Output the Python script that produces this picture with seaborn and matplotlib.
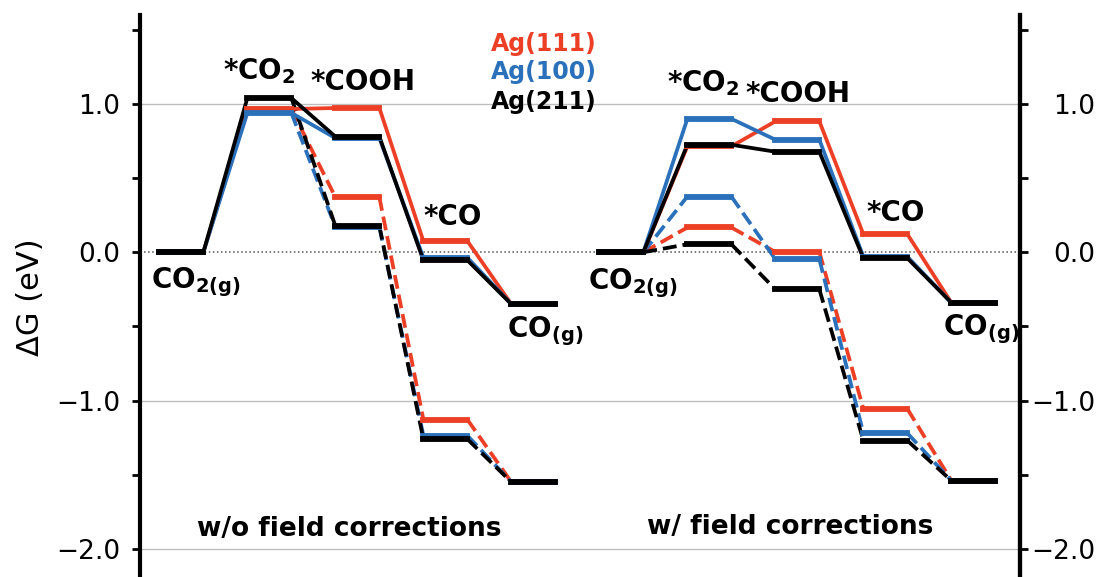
import matplotlib
matplotlib.use("Agg")
import matplotlib.pyplot as plt
import numpy as np
import pandas as pd
import seaborn as sns

# ---------------- data ----------------
steps = ["CO$_{\\mathbf{2(g)}}$", "*CO$_\\mathbf{2}$", "*COOH", "*CO", "CO$_{\\mathbf{(g)}}$"]
surfaces = ["Ag(111)", "Ag(100)", "Ag(211)"]
panels = ["w/o field corrections", "w/ field corrections"]

# w/o field corrections
wo_solid_111 = [0.0, 0.966, 0.973, 0.076, -0.35]
wo_solid_100 = [0.0, 0.940, 0.770, -0.036, -0.35]
wo_solid_211 = [0.0, 1.040, 0.780, -0.054, -0.35]
wo_dash_111 = [0.0, 0.966, 0.372, -1.128, -1.55]
wo_dash_100 = [0.0, 0.940, 0.170, -1.236, -1.55]
wo_dash_211 = [0.0, 1.040, 0.178, -1.260, -1.55]

# w/ field corrections
w_solid_111 = [0.0, 0.714, 0.883, 0.122, -0.34]
w_solid_100 = [0.0, 0.900, 0.759, -0.030, -0.34]
w_solid_211 = [0.0, 0.725, 0.678, -0.040, -0.34]
w_dash_111 = [0.0, 0.167, 0.002, -1.056, -1.54]
w_dash_100 = [0.0, 0.376, -0.047, -1.220, -1.54]
w_dash_211 = [0.0, 0.054, -0.250, -1.270, -1.54]

# index of the step from which the dashed pathway branches off
dash_start = [1, 0]

yticks_major = [-2.0, -1.0, 0.0, 1.0]
yticks_minor = [-1.5, -0.5, 0.5, 1.5]

# ---------------- layout / styles ----------------
colors = {"Ag(111)": "#ec3f26", "Ag(100)": "#2b70bb", "Ag(211)": "#000000"}
W = 0.5          # level width in step units
LV_LW = 4.2
CN_LW = 2.7

# label anchors (left, baseline) in data units, per panel
label_pos = [
    [(-0.10, -0.241), (0.72, 1.169), (1.72, 1.096), (3.00, 0.184), (3.95, -0.576)],
    [(4.87, -0.247), (5.77, 1.086), (6.66, 1.011), (8.03, 0.209), (8.91, -0.562)],
]
panel_pos = [(2.155, -1.912), (7.166, -1.900)]
legend_pos = [(3.765, 1.359), (3.765, 1.168), (3.765, 0.966)]

# ---------------- build long tables ----------------
series = {
    (0, "solid"): [wo_solid_111, wo_solid_100, wo_solid_211],
    (0, "dashed"): [wo_dash_111, wo_dash_100, wo_dash_211],
    (1, "solid"): [w_solid_111, w_solid_100, w_solid_211],
    (1, "dashed"): [w_dash_111, w_dash_100, w_dash_211],
}

lev_rows, con_rows = [], []
seg = 0
for (p, kind), vals_list in series.items():
    x0 = p * len(steps)
    start = 0 if kind == "solid" else dash_start[p]
    for surf, vals in zip(surfaces, vals_list):
        first_level = start if kind == "solid" else start + 1
        for i in range(first_level, len(vals)):
            for xx in (x0 + i, x0 + i + W):
                lev_rows.append(dict(x=xx, y=vals[i], seg=seg, surface=surf, kind=kind))
            seg += 1
        for i in range(start, len(vals) - 1):
            con_rows.append(dict(x=x0 + i + W, y=vals[i], seg=seg, surface=surf, kind=kind))
            con_rows.append(dict(x=x0 + i + 1, y=vals[i + 1], seg=seg, surface=surf, kind=kind))
            seg += 1

lev = pd.DataFrame(lev_rows)
con = pd.DataFrame(con_rows)

# ---------------- plot ----------------
sns.set_theme(style="white")
plt.rcParams["font.family"] = ["DejaVu Sans"]
plt.rcParams["lines.solid_capstyle"] = "projecting"
plt.rcParams["mathtext.fontset"] = "dejavusans"
for key in ("text.color", "axes.labelcolor", "xtick.color", "ytick.color"):
    plt.rcParams[key] = "black"

fig = plt.figure(figsize=(11, 5.77), dpi=100)
ax = fig.add_axes([140 / 1100, (577 - 578.5) / 577, 880 / 1100, 563.5 / 577])

# grid lines and zero line
for yv in yticks_major:
    if yv == 0.0:
        ax.axhline(yv, color="#555555", ls=":", lw=1.1, zorder=0)
    else:
        ax.axhline(yv, color="#bdbdbd", lw=1.0, zorder=0)

# dashed pathway first (below), then solid
for kind in ("dashed", "solid"):
    sub_c = con[con.kind == kind]
    for surf in surfaces:
        d = sub_c[sub_c.surface == surf]
        sns.lineplot(data=d, x="x", y="y", units="seg", estimator=None, sort=False,
                     color=colors[surf], lw=CN_LW, ax=ax, legend=False,
                     linestyle="-" if kind == "solid" else "--")
    sub_l = lev[lev.kind == kind]
    for surf in surfaces:
        d = sub_l[sub_l.surface == surf]
        sns.lineplot(data=d, x="x", y="y", units="seg", estimator=None, sort=False,
                     color=colors[surf], lw=LV_LW, ax=ax, legend=False)

# step labels
for p in range(2):
    for name, (tx, ty) in zip(steps, label_pos[p]):
        ax.text(tx, ty, name, fontsize=20, fontweight="bold", ha="left", va="baseline",
                color="black")
    ax.text(panel_pos[p][0], panel_pos[p][1], panels[p], fontsize=19, fontweight="bold",
            ha="center", va="baseline", color="black")

# legend as coloured text
for surf, (tx, ty) in zip(surfaces, legend_pos):
    ax.text(tx, ty, surf, fontsize=17, fontweight="bold", color=colors[surf],
            ha="left", va="baseline")

ax.set_xlim(-0.22, 9.78)
ax.set_ylim(-2.2, 1.6)
ax.set_xlabel("")
ax.set_xticks([])
ax.set_ylabel("\u0394G (eV)", fontsize=22, labelpad=8, color="black")

ax.set_yticks(yticks_major)
ax.set_yticks(yticks_minor, minor=True)
ax.set_yticklabels([f"{v:.1f}".replace("-", "\u2212") for v in yticks_major])
ax.tick_params(axis="y", which="both", direction="out", length=6, width=2,
               labelsize=19, pad=8, left=True, right=False, color="black",
               labelcolor="black")

for side in ("top", "bottom"):
    ax.spines[side].set_visible(False)
for side in ("left", "right"):
    ax.spines[side].set_visible(True)
    ax.spines[side].set_linewidth(3)
    ax.spines[side].set_color("black")

ax2 = ax.twinx()
ax2.set_ylim(ax.get_ylim())
ax2.set_yticks(yticks_major)
ax2.set_yticks(yticks_minor, minor=True)
ax2.set_yticklabels([f"{v:.1f}".replace("-", "\u2212") for v in yticks_major])
ax2.tick_params(axis="y", which="both", direction="out", length=6, width=2,
                labelsize=19, pad=48, right=True, left=False, color="black",
                labelcolor="black")
for lbl in ax2.get_yticklabels():
    lbl.set_horizontalalignment("right")
for side in ("top", "bottom", "left"):
    ax2.spines[side].set_visible(False)
ax2.spines["right"].set_linewidth(3)
ax2.spines["right"].set_color("black")
ax2.grid(False)
ax.grid(False)

fig.savefig("out.png", dpi=100)
